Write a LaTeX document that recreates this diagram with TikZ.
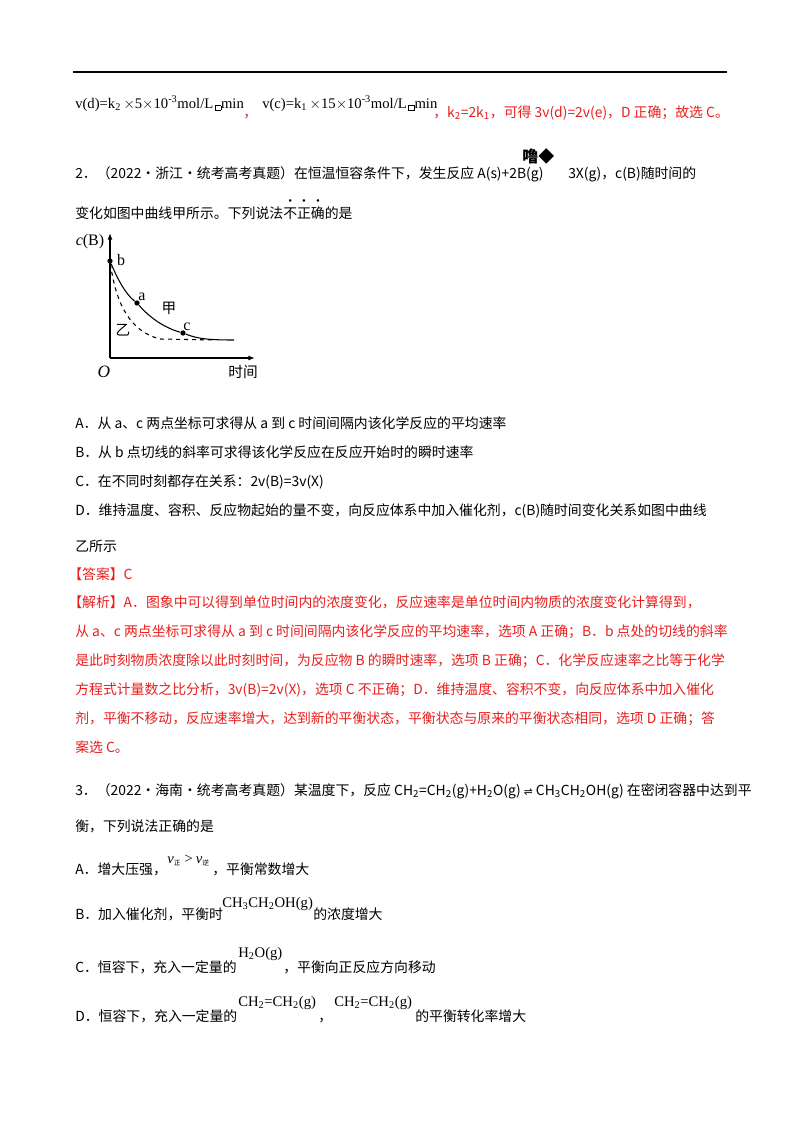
\documentclass[tikz,border=0pt]{standalone}
\usetikzlibrary{arrows.meta}
\usepackage{fontspec}
\setmainfont{Noto Sans CJK SC}
\newfontfamily\tms{Liberation Serif}
\newfontfamily\cjk{Noto Sans CJK SC}
\newfontfamily\dvs{DejaVu Sans}
\definecolor{rd}{RGB}{232,30,30}
\newcommand{\ed}[1]{\rlap{\raisebox{0.95em}{\makebox[1em]{\scriptsize\textbf{·}}}}#1}
\begin{document}
\begin{tikzpicture}[x=0.75pt,y=-0.75pt,
  tx/.style={anchor=base west,inner sep=0,font=\fontsize{10.4}{12}\selectfont},
  rt/.style={tx,text=rd},
  fm/.style={anchor=base west,inner sep=0,font=\tms\fontsize{11}{12}\selectfont},
  dotp/.style={circle,fill,inner sep=1.4pt}]
\useasboundingbox (0,0) rectangle (800,1132);
\draw[line width=1.3pt] (73,72) -- (727,72);
\node[fm] (l1a) at (75,108) {v(d)=k\textsubscript{2}\,$\times$5$\times$10\textsuperscript{-3}mol/L\kern1pt{\fboxsep=1.5pt\fbox{\kern1pt}}min};
\node[rt] (l1b) at (243,117) {，};
\node[fm] (l1c) at (262,108) {v(c)=k\textsubscript{1}\,$\times$15$\times$10\textsuperscript{-3}mol/L\kern1pt{\fboxsep=1.5pt\fbox{\kern1pt}}min};
\node[rt] (l1d) at (433,117) {，k\textsubscript{2}=2k\textsubscript{1}，可得 3v(d)=2v(e)，D 正确；故选 C。};
\node[tx] (l2) at (75,178) {2．（2022·浙江·统考高考真题）在恒温恒容条件下，发生反应 A(s)+2B(g)};
\node[tx,font=\bfseries\fontsize{12}{12}\selectfont] (l2x) at (522,162) {噜◆};
\node[tx] (l2b) at (568,178) {3X(g)，c(B)随时间的};
\node[tx] (l3) at (75,218) {变化如图中曲线甲所示。下列说法\ed{不}\ed{正}\ed{确}的是};
% graph
\coordinate (O) at (110,358);
\draw[line width=0.9pt,-{Latex[length=5pt]}] (O) -- (110,233);
\draw[line width=0.9pt,-{Latex[length=5pt]}] (O) -- (255,358);
\node[dotp] (b) at (110,261) {};
\node[dotp] (a) at (137,303) {};
\node[dotp] (c) at (183,333) {};
\coordinate (e) at (234,340);
\draw[thick] (b) .. controls (120,285) and (128,296) .. (a) .. controls (150,318) and (165,328) .. (c) .. controls (198,339) and (210,340) .. (e);
\draw[thick,dashed] (b) .. controls (115,295) and (125,330) .. (160,339) -- (215,340);
\node[anchor=base,inner sep=0,font=\tms\fontsize{12}{12}\selectfont] (cb) at (90,245) {\textit{c}(B)};
\node[anchor=base,inner sep=0,font=\tms\fontsize{12}{12}\selectfont] (lb) at (121,265) {b};
\node[anchor=base,inner sep=0,font=\tms\fontsize{12}{12}\selectfont] (la) at (142,300) {a};
\node[anchor=base,inner sep=0,font=\tms\fontsize{12}{12}\selectfont] (lc) at (187,330) {c};
\node[anchor=base,inner sep=0,font=\fontsize{11}{12}\selectfont] (lj) at (169,313) {甲};
\node[anchor=base,inner sep=0,font=\fontsize{11}{12}\selectfont] (ly) at (123,335) {乙};
\node[anchor=base,inner sep=0,font=\tms\itshape\fontsize{13}{12}\selectfont] (lo) at (104,377) {O};
\node[anchor=base,inner sep=0,font=\fontsize{11}{12}\selectfont] (lt) at (243,377) {时间};
\node[tx] (oA) at (75,428) {A．从 a、c 两点坐标可求得从 a 到 c 时间间隔内该化学反应的平均速率};
\node[tx] (oB) at (75,457) {B．从 b 点切线的斜率可求得该化学反应在反应开始时的瞬时速率};
\node[tx] (oC) at (75,486) {C．在不同时刻都存在关系：2v(B)=3v(X)};
\node[tx] (oD) at (75,515) {D．维持温度、容积、反应物起始的量不变，向反应体系中加入催化剂，c(B)随时间变化关系如图中曲线};
\node[tx] (oD2) at (75,551) {乙所示};
\node[rt] (ans) at (68,579) {【答案】C};
\node[rt] (j1) at (68,607) {【解析】A．图象中可以得到单位时间内的浓度变化，反应速率是单位时间内物质的浓度变化计算得到，};
\node[rt] (j2) at (75,636) {从 a、c 两点坐标可求得从 a 到 c 时间间隔内该化学反应的平均速率，选项 A 正确；B．b 点处的切线的斜率};
\node[rt] (j3) at (75,665) {是此时刻物质浓度除以此时刻时间，为反应物 B 的瞬时速率，选项 B 正确；C．化学反应速率之比等于化学};
\node[rt] (j4) at (75,694) {方程式计量数之比分析，3v(B)=2v(X)，选项 C 不正确；D．维持温度、容积不变，向反应体系中加入催化};
\node[rt] (j5) at (75,723) {剂，平衡不移动，反应速率增大，达到新的平衡状态，平衡状态与原来的平衡状态相同，选项 D 正确；答};
\node[rt] (j6) at (75,752) {案选 C。};
\node[tx] (q3) at (75,795) {3．（2022·海南·统考高考真题）某温度下，反应 CH\textsubscript{2}=CH\textsubscript{2}(g)+H\textsubscript{2}O(g) {\dvs\fontsize{8}{8}\selectfont ⇌} CH\textsubscript{3}CH\textsubscript{2}OH(g) 在密闭容器中达到平};
\node[tx] (q3b) at (75,831) {衡，下列说法正确的是};
\node[tx] (qA) at (75,874) {A．增大压强，};
\node[fm,font=\tms\itshape\fontsize{11}{12}\selectfont] (qAf) at (167,863) {v\textsubscript{\cjk\upshape\fontsize{5}{5}\selectfont 正}\,>\,v\textsubscript{\cjk\upshape\fontsize{5}{5}\selectfont 逆}};
\node[tx] (qA2) at (212,874) {，平衡常数增大};
\node[tx] (qB) at (75,919) {B．加入催化剂，平衡时};
\node[fm] (qBf) at (222,907) {CH\textsubscript{3}CH\textsubscript{2}OH(g)};
\node[tx] (qB2) at (313,919) {的浓度增大};
\node[tx] (qC) at (75,972) {C．恒容下，充入一定量的};
\node[fm] (qCf) at (238,957) {H\textsubscript{2}O(g)};
\node[tx] (qC2) at (283,972) {，平衡向正反应方向移动};
\node[tx] (qD) at (75,1021) {D．恒容下，充入一定量的};
\node[fm] (qDf) at (238,1006) {CH\textsubscript{2}=CH\textsubscript{2}(g)};
\node[tx] (qDc) at (318,1021) {，};
\node[fm] (qDf2) at (334,1006) {CH\textsubscript{2}=CH\textsubscript{2}(g)};
\node[tx] (qD2) at (415,1021) {的平衡转化率增大};
\end{tikzpicture}
\end{document}
